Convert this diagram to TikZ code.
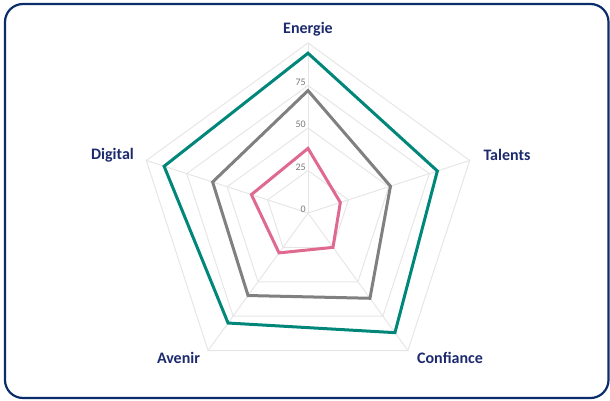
\documentclass[tikz,border=0pt]{standalone}
\usepackage{fontspec}
\setmainfont{Carlito}
\usetikzlibrary{calc}
\definecolor{frame}{HTML}{0B2D6B}
\definecolor{lab}{HTML}{1C2A6E}
\definecolor{gridc}{HTML}{E6E6E6}
\definecolor{tealc}{HTML}{00877A}
\definecolor{grayc}{HTML}{808080}
\definecolor{pinkc}{HTML}{E0698F}
\definecolor{tickc}{HTML}{7A7A7A}
\tikzset{
  axislabel/.style={text=lab, font=\fontsize{16}{18}\selectfont\bfseries, inner sep=0pt},
  ticklabel/.style={text=tickc, font=\fontsize{10}{11}\selectfont, inner sep=0pt, anchor=east},
  gridline/.style={draw=gridc, line width=1pt},
  series/.style={line width=3pt, line join=miter},
}
\def\S{1.7}
\begin{document}
\begin{tikzpicture}[x=1pt,y=1pt]
\useasboundingbox (0,0) rectangle (610,400);
\draw[frame, line width=2.2pt, rounded corners=18pt] (5,2) rectangle (608.5,396);
\begin{scope}[shift={(308,187)}]
  \coordinate (O) at (0,0);
  % grid rings
  \foreach \v in {25,50,75,100}{
    \draw[gridline] (90:{\v*\S}) -- (18:{\v*\S}) -- (-54:{\v*\S}) -- (-126:{\v*\S}) -- (162:{\v*\S}) -- cycle;
  }
  % spokes
  \foreach \a in {90,18,-54,-126,162}{
    \coordinate (tip\a) at (\a:{100*\S});
    \draw[gridline] (O) -- (tip\a);
  }
  % tick labels
  \foreach \v in {0,25,50,75}{
    \node[ticklabel] (t\v) at (-2,{\v*\S+3.5}) {\v};
  }
  % series
  \draw[series, tealc] (90:{94*\S}) -- (18:{80*\S}) -- (-54:{87*\S}) -- (-126:{80*\S}) -- (162:{89*\S}) -- cycle;
  \draw[series, grayc] (90:{72*\S}) -- (18:{51*\S}) -- (-54:{62*\S}) -- (-126:{60*\S}) -- (162:{59*\S}) -- cycle;
  \draw[series, pinkc] (90:{38*\S}) -- (18:{20*\S}) -- (-54:{25*\S}) -- (-126:{29*\S}) -- (162:{35*\S}) -- cycle;
\end{scope}
\node[axislabel] (energie) at (308,371) {Energie};
\node[axislabel] (talents) at (507,245) {Talents};
\node[axislabel] (confiance) at (450,42) {Confiance};
\node[axislabel] (avenir) at (178.5,42) {Avenir};
\node[axislabel] (digital) at (112.5,245) {Digital};
\end{tikzpicture}
\end{document}
